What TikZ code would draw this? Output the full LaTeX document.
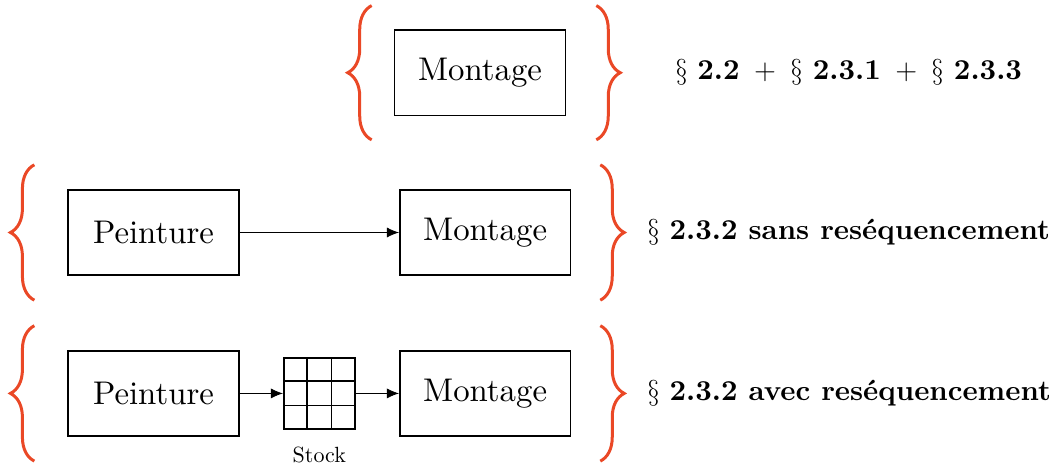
\documentclass[tikz,border=0pt]{standalone}
\usepackage{fontspec}
\setmainfont{lmroman10-regular.otf}[BoldFont=lmroman10-bold.otf]
\usetikzlibrary{arrows.meta,positioning,calc,decorations.pathreplacing}
\definecolor{bracered}{RGB}{234,72,38}
\tikzset{
  % Define standard arrow tip
  >={Latex[length=6pt,width=5pt]},
  % Define style for boxes
  box/.style={
    rectangle,
    draw=black, thick,
    minimum width=3cm,
    minimum height=1.5cm,
    font=\fontsize{16.4}{20}\selectfont},
  % Define style for the stock grid
  stockbox/.style={
    rectangle,
    draw=black, thick,
    minimum size=1.25cm,
    inner sep=0pt},
  % Define brace style
  curly/.style={
    decorate,
    decoration={brace, amplitude=0.42cm},
    draw=bracered,
    line width=1.5pt},
  % section text
  sec/.style={font=\Large, anchor=west},
  % line
  line/.style = {draw, ->},
}
\begin{document}
\begin{tikzpicture}[node distance=1cm, auto]
  \useasboundingbox (-2.698,-4.086) rectangle (15.914,4.086);
  % nodes
  \node[box] (peint2) at (0,0) {Peinture};
  \node[box, right=2.8 of peint2] (mont2) {Montage};
  \node[box, above=1.28 of mont2, xshift=-0.09cm] (mont1) {Montage};
  \node[box, below=1.3 of peint2] (peint3) {Peinture};
  \node[box, right=2.8 of peint3] (mont3) {Montage};
  \node[stockbox] at ($(peint3)!0.5!(mont3)$) (stock) {};
  \foreach \k in {1,2} {
    \draw[thick] ($(stock.south west)!\k/3!(stock.south east)$) -- ($(stock.north west)!\k/3!(stock.north east)$);
    \draw[thick] ($(stock.south west)!\k/3!(stock.north west)$) -- ($(stock.south east)!\k/3!(stock.north east)$);
  }
  \node[below=0.18 of stock, font=\fontsize{11}{13}\selectfont] (stocklbl) {Stock};
  \path[line] (peint2) -- (mont2);
  \path[line] (peint3) -- (stock);
  \path[line] (stock) -- (mont3);
  % braces
  \draw[curly] ($(mont1.west)+(-0.39,-1.18)$) -- ($(mont1.west)+(-0.39,1.18)$);
  \draw[curly] ($(mont1.east)+(0.53,1.18)$) -- ($(mont1.east)+(0.53,-1.18)$);
  \draw[curly] ($(peint2.west)+(-0.58,-1.19)$) -- ($(peint2.west)+(-0.58,1.19)$);
  \draw[curly] ($(mont2.east)+(0.51,1.19)$) -- ($(mont2.east)+(0.51,-1.19)$);
  \draw[curly] ($(peint3.west)+(-0.58,-1.19)$) -- ($(peint3.west)+(-0.58,1.19)$);
  \draw[curly] ($(mont3.east)+(0.51,1.19)$) -- ($(mont3.east)+(0.51,-1.19)$);
  % section references
  \node[sec] (t2) at ($(mont2.east)+(1.21,0)$) {$\S$ \textbf{2.3.2 sans reséquencement}};
  \node[sec] (t3) at ($(mont3.east)+(1.21,0)$) {$\S$ \textbf{2.3.2 avec reséquencement}};
  \node[sec, anchor=center] (t1) at (t2.center |- mont1) {$\S$ \textbf{2.2}\, $+$\, $\S$ \textbf{2.3.1}\, $+$\, $\S$ \textbf{2.3.3}};
\end{tikzpicture}
\end{document}
